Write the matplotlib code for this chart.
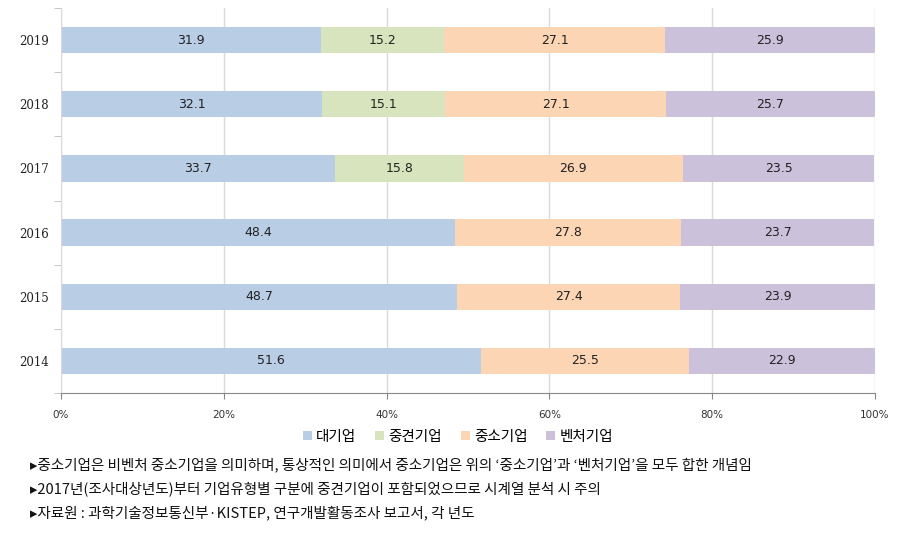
import matplotlib.pyplot as plt
import numpy as np

years = ['2019', '2018', '2017', '2016', '2015', '2014']
large = [31.9, 32.1, 33.7, 48.4, 48.7, 51.6]
midsize = [15.2, 15.1, 15.8, 0, 0, 0]
small = [27.1, 27.1, 26.9, 27.8, 27.4, 25.5]
venture = [25.9, 25.7, 23.5, 23.7, 23.9, 22.9]

series = [('대기업', large, '#B9CDE5'),
          ('중견기업', midsize, '#D7E4BD'),
          ('중소기업', small, '#FCD5B5'),
          ('벤처기업', venture, '#CCC1DA')]

notes = ['▸중소기업은 비벤처 중소기업을 의미하며, 통상적인 의미에서 중소기업은 위의 ‘중소기업’과 ‘벤처기업’을 모두 합한 개념임',
         '▸2017년(조사대상년도)부터 기업유형별 구분에 중견기업이 포함되었으므로 시계열 분석 시 주의',
         '▸자료원 : 과학기술정보통신부·KISTEP, 연구개발활동조사 보고서, 각 년도']

kfont = ['Noto Sans CJK KR', 'DejaVu Sans']

fig = plt.figure(figsize=(9.08, 5.36), dpi=100)
ax = fig.add_axes([61/908, 1-393/536, 814/908, 385/536])

y = np.arange(len(years))[::-1]
left = np.zeros(len(years))
handles = []
for name, vals, col in series:
	vals = np.array(vals, dtype=float)
	b = ax.barh(y, vals, left=left, height=0.41, color=col, label=name, zorder=2)
	handles.append(b)
	for yi, l, v in zip(y, left, vals):
		if v > 0:
			ax.text(l + v/2, yi, '%.1f' % v, ha='center', va='center', fontsize=9,
				family='DejaVu Sans', color='#222222', zorder=3)
	left = left + vals

ax.set_xlim(0, 100)
ax.set_ylim(-0.5, len(years) - 0.5)
ax.set_xticks(np.arange(0, 101, 20))
ax.set_xticklabels(['%d%%' % v for v in range(0, 101, 20)], fontsize=7.5, color='#333333')
ax.set_yticks(y)
ax.set_yticklabels(years, fontsize=8.5, color='#222222', family='DejaVu Serif')
ax.set_yticks(np.arange(-0.5, len(years)), minor=True)
ax.tick_params(axis='y', which='major', length=0, pad=9)
ax.tick_params(axis='y', which='minor', length=5, color='#BBBBBB', direction='out')
ax.tick_params(axis='x', length=4, color='#888888', pad=8)
ax.grid(axis='x', color='#D9D9D9', lw=1, zorder=0)
for s in ['top', 'right']:
	ax.spines[s].set_visible(False)
ax.spines['left'].set_color('#D9D9D9')
ax.spines['bottom'].set_color('#888888')

fig.legend(handles=handles, loc='center', bbox_to_anchor=(458/908, 1-437/536), ncol=4,
	frameon=False, prop={'family': kfont, 'size': 10.5}, handlelength=0.6, handleheight=0.6,
	handletextpad=0.3, columnspacing=1.3)

for i, t in enumerate(notes):
	fig.text(30/908, 1-(465 + 24*i)/536, t, ha='left', va='center', fontsize=10.5,
		family=kfont, color='#111111')

plt.savefig('out.png')
